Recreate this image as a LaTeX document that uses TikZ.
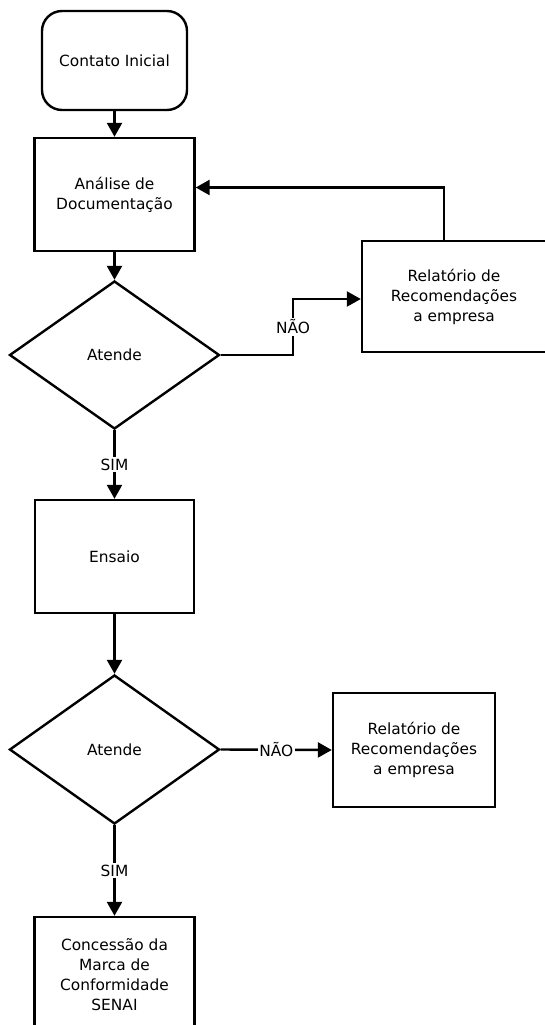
\documentclass[tikz,border=0pt]{standalone}
\usepackage{fontspec}
\setmainfont{DejaVu Sans}
\usetikzlibrary{arrows.meta}
\usetikzlibrary{shapes.geometric}
\usetikzlibrary{positioning}

\begin{document}
\begin{tikzpicture}[x=1pt, y=-1pt,
				startnode/.style={rectangle, rounded corners=20pt, draw, line width=2.4pt, minimum width=145pt, minimum height=99pt, font=\fontsize{15.4}{20}\selectfont},
				boxnode/.style={rectangle, draw, line width=2.4pt, align=center, minimum width=160pt, minimum height=113pt, font=\fontsize{15.4}{20}\selectfont},
				decisionnode/.style={diamond, draw, line width=2.4pt, inner sep=0pt, minimum width=210pt, minimum height=148pt, font=\fontsize{15.4}{20}\selectfont},
				flow/.style={line width=2.4pt, -{Triangle[length=14pt,width=15pt]}},
				answer/.style={fill=white, inner sep=1.5pt, font=\fontsize{15.4}{16}\selectfont},
				]
				\useasboundingbox (0,0) rectangle (545,1025);

				% Nodes
				\node[startnode] (contato) at (114.5,60.5) {Contato Inicial};
				\node[boxnode] (analise) at (114.5,194.5) {Análise de\\Documentação};
				\node[decisionnode] (atende1) at (114.5,355) {Atende};
				\node[boxnode, minimum width=184pt, minimum height=111pt] (relat1) at (454,296.5) {Relatório de\\Recomendações\\a empresa};
				\node[boxnode, minimum width=159pt] (ensaio) at (114.5,556.5) {Ensaio};
				\node[decisionnode, minimum height=149pt] (atende2) at (114.5,749.5) {Atende};
				\node[boxnode, minimum width=162pt, minimum height=114pt] (relat2) at (414,750) {Relatório de\\Recomendações\\a empresa};
				\node[boxnode, minimum height=116pt] (concessao) at (114.5,975) {Concessão da\\Marca de\\Conformidade\\SENAI};

				% Corner points
				\coordinate (nao1) at (293,355);

				% Arrows
				\draw[flow] (contato) -- (analise);
				\draw[flow] (analise) -- (atende1);
				\draw[flow] (atende1.east) -- (nao1) -- node[answer]{NÃO} (nao1 |- {0,299}) -- (relat1.west |- {0,299});
				\draw[flow] ([xshift=-10pt]relat1.north) |- ([yshift=7pt]analise.east);
				\draw[flow] (atende1.south) -- node[answer]{SIM} (ensaio.north);
				\draw[flow] (ensaio) -- (atende2);
				\draw[flow] (atende2.east) -- node[answer]{NÃO} (relat2.west);
				\draw[flow] (atende2.south) -- node[answer]{SIM} (concessao.north);
\end{tikzpicture}
\end{document}
